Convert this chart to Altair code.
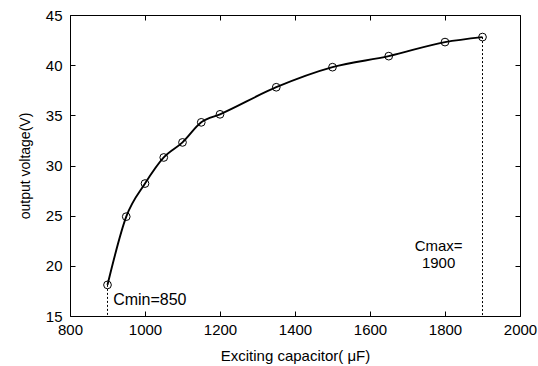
import altair as alt
import pandas as pd

# data
cap = [900, 950, 1000, 1050, 1100, 1150, 1200, 1350, 1500, 1650, 1800, 1900]
volt = [18.1, 24.9, 28.2, 30.8, 32.3, 34.3, 35.1, 37.8, 39.8, 40.9, 42.3, 42.8]

x_ticks = [800, 1000, 1200, 1400, 1600, 1800, 2000]
y_ticks = [15, 20, 25, 30, 35, 40, 45]

vline_x = [900, 1900]
vline_top = [18.1, 42.8]
vline_bottom = [15, 15]

ann_text = ["Cmin=850", "Cmax=", "1900"]
ann_x = [915, 1783, 1783]
ann_y = [16.6, 22.0, 20.25]
ann_align = ["left", "center", "center"]

FONT = "Liberation Sans"

df = pd.DataFrame({"C": cap, "V": volt})
df_v = pd.DataFrame({"x": vline_x, "y": vline_top, "y2": vline_bottom})
df_a = pd.DataFrame({"x": ann_x, "y": ann_y, "t": ann_text, "a": ann_align})

xs = alt.Scale(domain=[800, 2000], nice=False, zero=False)
ys = alt.Scale(domain=[15, 45], nice=False, zero=False)

x_bottom = alt.Axis(values=x_ticks, orient="bottom", offset=-5, tickSize=5, domain=False,
                    grid=False, labelPadding=6, labelFontSize=15, labelFont=FONT,
                    labelFlush=False, format="d",
                    labelColor="black", tickColor="black", title="Exciting capacitor( μF)",
                    titleFont=FONT, titleFontSize=15, titleFontWeight="normal",
                    titleColor="black", titlePadding=11)
y_left = alt.Axis(values=y_ticks, orient="left", offset=-5, tickSize=5, domain=False,
                  grid=False, labelPadding=8, labelFontSize=15, labelFont=FONT,
                  labelFlush=False, format="d",
                  labelColor="black", tickColor="black", title="output voltage(V)",
                  titleFont=FONT, titleFontSize=14, titleFontWeight="normal",
                  titleColor="black", titlePadding=13)
x_top = alt.Axis(values=x_ticks, orient="top", offset=-5, tickSize=5, domain=False,
                 grid=False, labels=False, tickColor="black", title=None)
y_right = alt.Axis(values=y_ticks, orient="right", offset=-5, tickSize=5, domain=False,
                   grid=False, labels=False, tickColor="black", title=None)

line = alt.Chart(df).mark_line(interpolate="monotone", color="black", strokeWidth=1.9).encode(
    x=alt.X("C:Q", scale=xs, axis=x_bottom),
    y=alt.Y("V:Q", scale=ys, axis=y_left),
)

points = alt.Chart(df).mark_point(shape="circle", filled=False, size=60, color="black",
                                  strokeWidth=1, opacity=1).encode(
    x=alt.X("C:Q", scale=xs, axis=x_top),
    y=alt.Y("V:Q", scale=ys, axis=y_right),
)

vlines = alt.Chart(df_v).mark_rule(color="black", strokeWidth=1, strokeDash=[2, 2]).encode(
    x=alt.X("x:Q", scale=xs, axis=None),
    y=alt.Y("y:Q", scale=ys, axis=None),
    y2="y2:Q",
)

ann_left = alt.Chart(df_a[df_a.a == "left"]).mark_text(
    align="left", baseline="middle", font=FONT, fontSize=16, color="black").encode(
    x=alt.X("x:Q", scale=xs, axis=None),
    y=alt.Y("y:Q", scale=ys, axis=None),
    text="t:N",
)
ann_center = alt.Chart(df_a[df_a.a == "center"]).mark_text(
    align="center", baseline="middle", font=FONT, fontSize=15, color="black").encode(
    x=alt.X("x:Q", scale=xs, axis=None),
    y=alt.Y("y:Q", scale=ys, axis=None),
    text="t:N",
)

chart = alt.layer(vlines, line, points, ann_left, ann_center).resolve_axis(
    x="independent", y="independent"
).properties(
    width=450, height=301,
    autosize=alt.AutoSizeParams(type="none"),
    padding={"left": 70, "top": 15, "right": 18, "bottom": 50},
    background="white",
).configure_view(stroke="black", strokeWidth=1)

chart.save("out.html", embed_options={"renderer": "svg", "actions": False})
